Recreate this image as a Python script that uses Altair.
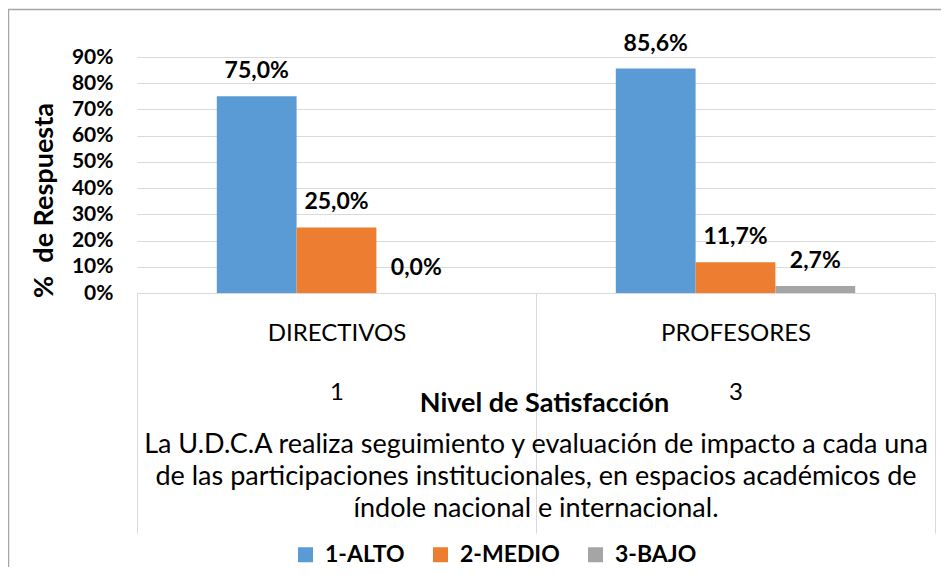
import altair as alt
import pandas as pd

categories = ["DIRECTIVOS", "PROFESORES"]
category_codes = ["1", "3"]
series = ["1-ALTO", "2-MEDIO", "3-BAJO"]
alto = [0.750, 0.856]
medio = [0.250, 0.117]
bajo = [0.000, 0.027]
y_ticks = [0.0, 0.1, 0.2, 0.3, 0.4, 0.5, 0.6, 0.7, 0.8, 0.9]
colors = ["#5B9BD5", "#ED7D31", "#A5A5A5"]
x_title = "Nivel de Satisfacción"
y_title = "%\u00a0 de Respuesta"
note_lines = [
    "La U.D.C.A realiza seguimiento y evaluación de impacto a cada una",
    "de las participaciones institucionales, en espacios académicos de",
    "índole nacional e internacional.",
]

rows = []
for i, c in enumerate(categories):
    for s, vals in zip(series, [alto, medio, bajo]):
        rows.append({"cat": c + "|" + category_codes[i], "serie": s, "valor": vals[i]})
df = pd.DataFrame(rows)

FONT = "Lato"
W, H = 798, 236

x_enc = alt.X(
    "cat:N",
    sort=None,
    scale=alt.Scale(paddingInner=0, paddingOuter=0),
    axis=alt.Axis(
        title=x_title,
        titleFont=FONT,
        titleFontSize=27,
        titleFontWeight="bold",
        titleColor="#000000",
        titleX=407,
        titleY=110,
        titleBaseline="middle",
        titleAlign="center",
        labelExpr="split(datum.label, '|')",
        labelFont=FONT,
        labelFontSize=24,
        labelColor="#000000",
        labelAngle=0,
        labelBaseline="top",
        labelLineHeight=59,
        labelPadding=-212,
        tickBand="extent",
        tickSize=240,
        tickColor="#D9D9D9",
        domainColor="#D9D9D9",
        grid=False,
    ),
)

y_enc = alt.Y(
    "valor:Q",
    scale=alt.Scale(domain=[0, 0.9]),
    axis=alt.Axis(
        values=y_ticks,
        format="%",
        title=y_title,
        titleFont=FONT,
        titleFontSize=27,
        titleFontWeight="bold",
        titleColor="#000000",
        titleAngle=270,
        titleBaseline="bottom",
        titleAlign="center",
        titleX=-79,
        titleY=143,
        labelFont=FONT,
        labelFontSize=21,
        labelFontWeight="bold",
        labelColor="#000000",
        labelPadding=24,
        ticks=False,
        domain=False,
        gridColor="#D9D9D9",
    ),
)

base = alt.Chart(df).encode(
    x=x_enc,
    xOffset=alt.XOffset("serie:N", sort=series, scale=alt.Scale(paddingInner=0, paddingOuter=1)),
    y=y_enc,
)

bars = base.mark_bar().encode(
    color=alt.Color(
        "serie:N",
        sort=series,
        scale=alt.Scale(domain=series, range=colors),
        legend=alt.Legend(
            title=None,
            orient="none",
            legendX=157,
            legendY=486,
            direction="horizontal",
            symbolType="square",
            symbolSize=225,
            symbolStrokeWidth=0,
            symbolOpacity=1,
            labelFont=FONT,
            labelFontSize=23,
            labelFontWeight="bold",
            labelColor="#000000",
            labelOffset=8,
            columnPadding=24,
            padding=0,
        ),
    )
)

labels = base.mark_text(
    dy=-25, baseline="middle", font=FONT, fontSize=23, fontWeight="bold", color="#000000"
).transform_calculate(
    etiqueta="replace(format(datum.valor, '.1%'), '.', ',')"
).encode(text="etiqueta:N")

frame = alt.Chart(pd.DataFrame({"f": [0]})).mark_rect(
    fillOpacity=0, stroke="#A6A6A6", strokeWidth=1.5
).encode(
    x=alt.value(-128.5), x2=alt.value(840), y=alt.value(-47.5), y2=alt.value(540)
)

chart = alt.layer(frame, bars, labels).properties(
    width=W,
    height=H,
    autosize=alt.AutoSizeParams(type="none"),
    padding={"left": 129, "top": 49, "right": 6, "bottom": 274},
    title=alt.TitleParams(
        text=note_lines,
        orient="bottom",
        anchor="middle",
        font=FONT,
        fontSize=27,
        fontWeight="normal",
        color="#000000",
        lineHeight=32,
        offset=-166,
    ),
).configure_view(stroke=None)

chart.save("out.html", embed_options={"renderer": "svg", "actions": False})
